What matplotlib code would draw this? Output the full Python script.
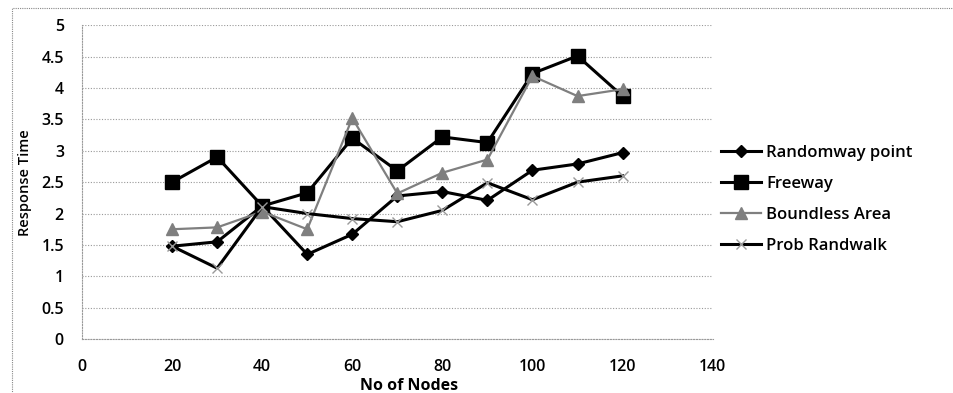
import numpy as np
import matplotlib.pyplot as plt
from matplotlib.patches import Rectangle

# liczba wezlow
nodes = [20, 30, 40, 50, 60, 70, 80, 90, 100, 110, 120]

randomway = [1.48, 1.55, 2.12, 1.35, 1.67, 2.28, 2.35, 2.21, 2.69, 2.79, 2.97]
freeway = [2.5, 2.9, 2.12, 2.33, 3.2, 2.68, 3.22, 3.13, 4.23, 4.51, 3.87]
boundless = [1.75, 1.78, 2.03, 1.75, 3.52, 2.32, 2.65, 2.86, 4.19, 3.87, 3.98]
randwalk = [1.48, 1.13, 2.11, 2.0, 1.92, 1.87, 2.05, 2.49, 2.22, 2.5, 2.6]

plt.rcParams['font.family'] = ['Open Sans', 'DejaVu Sans']

fig = plt.figure(figsize=(9.54, 3.93), dpi=100)
ax = fig.add_axes([0.086, 0.137, 0.661, 0.799])

ax.plot(nodes, randomway, color='black', lw=2.2, marker='D', ms=6.5, label='Randomway point')
ax.plot(nodes, freeway, color='black', lw=2.2, marker='s', ms=10.5, label='Freeway')
ax.plot(nodes, boundless, color='#7f7f7f', lw=1.6, marker='^', ms=8.5, label='Boundless Area')
ax.plot(nodes, randwalk, color='black', lw=2.2, marker='x', ms=7, mec='#999999', mew=1,
        label='Prob Randwalk')

ax.set_xlim(0, 140)
ax.set_ylim(0, 5)
ax.set_xticks(np.arange(0, 141, 20))
ax.set_yticks(np.arange(0, 5.01, 0.5))
ax.set_yticklabels(['0', '0.5', '1', '1.5', '2', '2.5', '3', '3.5', '4', '4.5', '5'])
ax.tick_params(length=0, labelsize=11.5)
ax.tick_params(axis='x', pad=14)
ax.tick_params(axis='y', pad=13)
for lab in ax.get_xticklabels() + ax.get_yticklabels():
    lab.set_fontweight('semibold')

ax.grid(axis='y', color='#999999', ls=(0, (1, 1.5)), lw=0.8)
for s in ['top', 'right']:
    ax.spines[s].set_visible(False)
for s in ['left', 'bottom']:
    ax.spines[s].set_color('#999999')
    ax.spines[s].set_linestyle((0, (1, 1.5)))
    ax.spines[s].set_linewidth(0.8)

ax.set_xlabel('No of Nodes', fontsize=11.5, fontweight='bold', labelpad=0)
ax.set_ylabel('Response Time', fontsize=10.5, fontweight='semibold')
ax.yaxis.set_label_coords(-0.08, 0.5)
ax.xaxis.set_label_coords(0.518, -0.125)

ax.legend(loc='center left', bbox_to_anchor=(0.99, 0.446), frameon=False,
          handlelength=2.4, handletextpad=0.3, labelspacing=0.9,
          prop={'weight': 'semibold', 'size': 12})

# ramka wokol wykresu
fig.patches.append(Rectangle((0.013, -0.01), 1.0, 0.99, transform=fig.transFigure,
                             fill=False, ec='#888888', lw=0.8, ls=(0, (1, 1))))

plt.savefig('out.png', dpi=100)
